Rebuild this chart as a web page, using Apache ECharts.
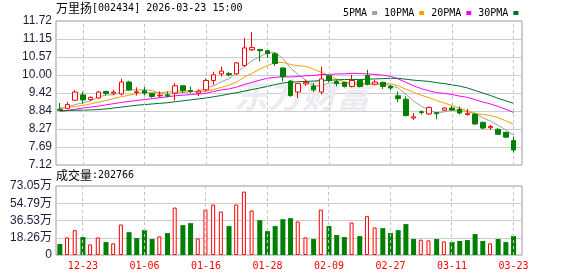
<!DOCTYPE html>
<html><head><meta charset="utf-8">
<script src="https://cdn.jsdelivr.net/npm/echarts@6/dist/echarts.min.js"></script>
<style>html,body{margin:0;padding:0;background:#fff}#c{width:578px;height:276px}</style>
</head><body><div id="c"></div>
<script>
const dates=['12-18','12-19','12-22','12-23','12-24','12-25','12-26','12-29','12-30','12-31','01-05','01-06','01-07','01-08','01-09','01-12','01-13','01-14','01-15','01-16','01-19','01-20','01-21','01-22','01-23','01-26','01-27','01-28','01-29','01-30','02-02','02-03','02-04','02-05','02-06','02-09','02-10','02-11','02-12','02-13','02-24','02-25','02-26','02-27','03-02','03-03','03-04','03-05','03-06','03-09','03-10','03-11','03-12','03-13','03-16','03-17','03-18','03-19','03-20','03-23'];
const opens=[8.90,8.92,9.19,9.36,9.21,9.26,9.47,9.42,9.39,9.77,9.44,9.49,9.40,9.33,9.35,9.42,9.65,9.50,9.42,9.52,9.82,10.03,10.04,10.03,10.30,10.80,10.81,10.77,10.67,10.22,9.80,9.45,9.71,9.64,9.45,9.97,9.79,9.76,9.63,9.82,9.98,9.70,9.76,9.63,9.33,9.22,8.62,8.82,8.75,8.79,8.87,8.94,8.90,8.73,8.74,8.48,8.31,8.26,8.16,7.90];
const closes=[8.87,9.05,9.45,9.20,9.28,9.45,9.41,9.45,9.77,9.52,9.46,9.42,9.31,9.35,9.32,9.65,9.50,9.47,9.48,9.82,10.00,10.12,10.00,10.38,10.86,10.87,10.77,10.68,10.36,9.94,9.34,9.72,9.76,9.52,9.87,9.82,9.72,9.63,9.82,9.63,9.70,9.77,9.63,9.58,9.24,8.70,8.66,8.80,8.96,8.76,8.94,8.88,8.78,8.76,8.43,8.30,8.35,8.10,8.01,7.60];
const lows=[8.85,8.90,9.17,9.08,9.17,9.24,9.34,9.36,9.34,9.49,9.34,9.34,9.27,9.29,9.28,9.18,9.42,9.42,9.32,9.47,9.68,9.95,9.95,10.00,10.25,10.76,10.43,10.54,10.29,9.79,9.30,9.26,9.65,9.45,9.38,9.76,9.63,9.60,9.60,9.60,9.66,9.66,9.55,9.52,9.13,8.67,8.56,8.73,8.72,8.58,8.85,8.85,8.74,8.70,8.41,8.26,8.24,8.08,7.99,7.52];
const highs=[9.10,9.14,9.51,9.46,9.31,9.49,9.49,9.52,9.88,9.81,9.60,9.61,9.42,9.47,9.47,9.74,9.66,9.63,9.54,9.88,10.10,10.26,10.09,10.41,11.18,11.37,10.83,10.79,10.72,10.24,9.83,9.74,9.85,9.74,10.26,10.00,9.84,9.78,10.00,9.84,10.16,9.84,9.78,9.68,9.47,9.31,8.78,8.86,8.99,8.81,8.96,9.01,8.99,8.91,8.78,8.51,8.40,8.30,8.19,8.03];
// volume in 万 (10k) shares
const volumes=[11.6,18.6,26.3,19.0,11.2,18.6,13.7,12.3,32.3,24.2,17.9,26.3,16.9,19.7,23.2,50.2,31.6,33.7,17.6,48.1,53.4,46.0,30.6,53.4,67.1,47.1,36.9,25.3,30.6,37.9,39.0,35.5,18.6,16.9,48.1,30.6,21.1,19.0,34.4,20.0,41.1,29.1,28.4,23.2,26.3,32.7,16.9,16.2,15.5,16.9,14.4,13.7,14.8,15.8,22.1,14.8,12.3,16.9,13.7,20.28];
const ma5=[8.92,8.98,9.05,9.11,9.17,9.29,9.36,9.36,9.47,9.52,9.52,9.52,9.50,9.41,9.37,9.41,9.43,9.46,9.48,9.58,9.65,9.78,9.88,10.06,10.27,10.45,10.58,10.71,10.71,10.52,10.22,10.01,9.82,9.66,9.64,9.74,9.74,9.71,9.77,9.72,9.70,9.71,9.71,9.66,9.58,9.38,9.16,9.00,8.87,8.78,8.82,8.87,8.86,8.82,8.76,8.63,8.52,8.39,8.24,8.07];
const ma10=[8.94,8.96,8.99,9.02,9.07,9.13,9.18,9.24,9.30,9.35,9.40,9.44,9.43,9.44,9.45,9.47,9.48,9.48,9.45,9.48,9.53,9.60,9.67,9.77,9.93,10.05,10.18,10.30,10.39,10.40,10.33,10.29,10.27,10.18,10.08,9.98,9.87,9.77,9.71,9.68,9.72,9.72,9.71,9.72,9.65,9.54,9.44,9.35,9.27,9.18,9.10,9.02,8.93,8.85,8.77,8.73,8.70,8.63,8.53,8.42];
const ma20=[8.83,8.86,8.90,8.94,8.97,9.00,9.04,9.08,9.12,9.15,9.18,9.21,9.24,9.27,9.30,9.33,9.35,9.37,9.39,9.41,9.47,9.52,9.55,9.61,9.69,9.76,9.83,9.89,9.92,9.94,9.93,9.95,9.97,9.98,10.01,10.01,10.03,10.03,10.05,10.04,10.03,10.01,9.99,9.95,9.87,9.76,9.65,9.56,9.49,9.43,9.41,9.37,9.32,9.28,9.21,9.13,9.07,8.99,8.90,8.80];
const ma30=[8.86,8.86,8.87,8.87,8.88,8.89,8.91,8.94,8.97,9.00,9.03,9.05,9.07,9.09,9.11,9.14,9.17,9.20,9.23,9.26,9.30,9.34,9.39,9.43,9.48,9.53,9.58,9.63,9.69,9.74,9.76,9.78,9.79,9.80,9.82,9.83,9.84,9.85,9.85,9.85,9.86,9.87,9.88,9.89,9.89,9.86,9.83,9.81,9.79,9.75,9.72,9.68,9.64,9.58,9.50,9.42,9.34,9.25,9.17,9.09];
const priceTickLabels=['7.12','7.69','8.27','8.84','9.42','10.00','10.57','11.15','11.72'];
const volTickLabels=['0','18.26万','36.53万','54.79万','73.05万'];
const dateTicks=['12-23','01-06','01-16','01-28','02-09','02-27','03-11','03-23'];
const priceMin=7.12, priceMax=11.72, volMax=73.05;
const stockName='万里扬', stockInfo='[002434] 2026-03-23 15:00';
const volTitle='成交量', volLast=':202766';
const maNames=['5PMA','10PMA','20PMA','30PMA'];

const UP='#ff0000', DOWN='#008000';
const maColors=['#a0a0a0','#f5a000','#ff00ff','#006f2c'];
const candleData=opens.map((o,i)=>[o,closes[i],lows[i],highs[i]]);
const isUpVol=i=>closes[i]>(i>0?closes[i-1]:opens[i]);
const volUp=volumes.map((v,i)=>isUpVol(i)?v:'-');
const volDown=volumes.map((v,i)=>isUpVol(i)?'-':v);
const dashLines=dateTicks.map(d=>({xAxis:d}));
const markCfg={symbol:['none','none'],silent:true,animation:false,label:{show:false},lineStyle:{type:[3,3],color:'#c4c4c4',width:1},data:dashLines};

const chart=echarts.init(document.getElementById('c'),null,{renderer:'canvas',width:578,height:276});
const DW=461.4;
const option={
  animation:false,
  backgroundColor:'#ffffff',
  legend:{left:338,top:3,data:maNames,align:'right',icon:'rect',itemWidth:5,itemHeight:4,itemGap:7,selectedMode:false,
    textStyle:{fontFamily:'DejaVu Sans Mono',fontSize:10,color:'#000'}},
  graphic:[
    {type:'text',left:56,top:2,z:10,silent:true,style:{text:'{a|'+stockName+'}{b|'+stockInfo+'}',
      rich:{a:{fontFamily:'Noto Sans CJK SC',fontSize:12,fill:'#000',color:'#000'},b:{fontFamily:'DejaVu Sans Mono',fontSize:10,fill:'#000',color:'#000'}}}},
    {type:'text',left:56,top:169,z:10,silent:true,style:{text:'{a|'+volTitle+'}{b|'+volLast+'}',
      rich:{a:{fontFamily:'Noto Sans CJK SC',fontSize:12,fill:'#000',color:'#000'},b:{fontFamily:'DejaVu Sans Mono',fontSize:10,fill:'#000',color:'#000'}}}},
    {type:'text',left:234,top:78,z:1,silent:true,style:{text:'东方财富',font:'italic bold 34px "Noto Sans CJK SC"',fill:'#ebebf0'}}
  ],
  grid:[
    {left:56,top:21,width:466,height:144,show:true,borderColor:'#9a9a9a',borderWidth:1,outerBoundsMode:'none'},
    {left:56,top:21,width:DW,height:144,outerBoundsMode:'none'},
    {left:56,top:186,width:466,height:69,show:true,borderColor:'#9a9a9a',borderWidth:1,outerBoundsMode:'none'},
    {left:56,top:186,width:DW,height:69,outerBoundsMode:'none'}
  ],
  xAxis:[
    {gridIndex:0,type:'value',min:0,max:1,show:false},
    {gridIndex:1,type:'category',data:dates,boundaryGap:true,show:false},
    {gridIndex:2,type:'value',min:0,max:1,show:false},
    {gridIndex:3,type:'category',data:dates,boundaryGap:true,axisLine:{show:false},axisTick:{show:false},splitLine:{show:false},
      axisLabel:{interval:(i,v)=>dateTicks.includes(v),color:'#ff0000',fontFamily:'DejaVu Sans Mono',fontSize:10,margin:6}}
  ],
  yAxis:[
    {gridIndex:0,type:'value',min:0,max:priceTickLabels.length-1,interval:1,axisLine:{show:false},axisTick:{show:false},
      splitLine:{show:true,showMinLine:false,showMaxLine:false,lineStyle:{color:'#cccccc',width:1}},
      axisLabel:{formatter:v=>priceTickLabels[Math.round(v)],color:'#1c1c3c',fontFamily:'Liberation Sans',fontSize:12,margin:4}},
    {gridIndex:1,type:'value',min:priceMin,max:priceMax,show:false},
    {gridIndex:2,type:'value',min:0,max:volTickLabels.length-1,interval:1,axisLine:{show:false},axisTick:{show:false},
      splitLine:{show:true,showMinLine:false,showMaxLine:false,lineStyle:{color:'#cccccc',width:1}},
      axisLabel:{formatter:v=>volTickLabels[Math.round(v)],color:'#1c1c3c',fontFamily:'Liberation Sans, Noto Sans CJK SC',fontSize:12,margin:4}},
    {gridIndex:3,type:'value',min:0,max:volMax,show:false}
  ],
  series:[
    {name:'K',type:'candlestick',xAxisIndex:1,yAxisIndex:1,data:candleData,barWidth:5,z:5,
      itemStyle:{color:'#ffffff',color0:DOWN,borderColor:UP,borderColor0:DOWN,borderWidth:1},
      markLine:markCfg},
    ...[ma5,ma10,ma20,ma30].map((d,k)=>({name:maNames[k],type:'line',xAxisIndex:1,yAxisIndex:1,data:d,symbol:'none',z:4,
      lineStyle:{color:maColors[k],width:1},itemStyle:{color:maColors[k]}})),
    {name:'volUp',type:'bar',xAxisIndex:3,yAxisIndex:3,data:volUp,barWidth:4,barGap:'-100%',
      itemStyle:{color:'#ffffff',borderColor:UP,borderWidth:1},markLine:markCfg},
    {name:'volDown',type:'bar',xAxisIndex:3,yAxisIndex:3,data:volDown,barWidth:5,barGap:'-100%',
      itemStyle:{color:DOWN}}
  ]
};
chart.setOption(option);
</script></body></html>
